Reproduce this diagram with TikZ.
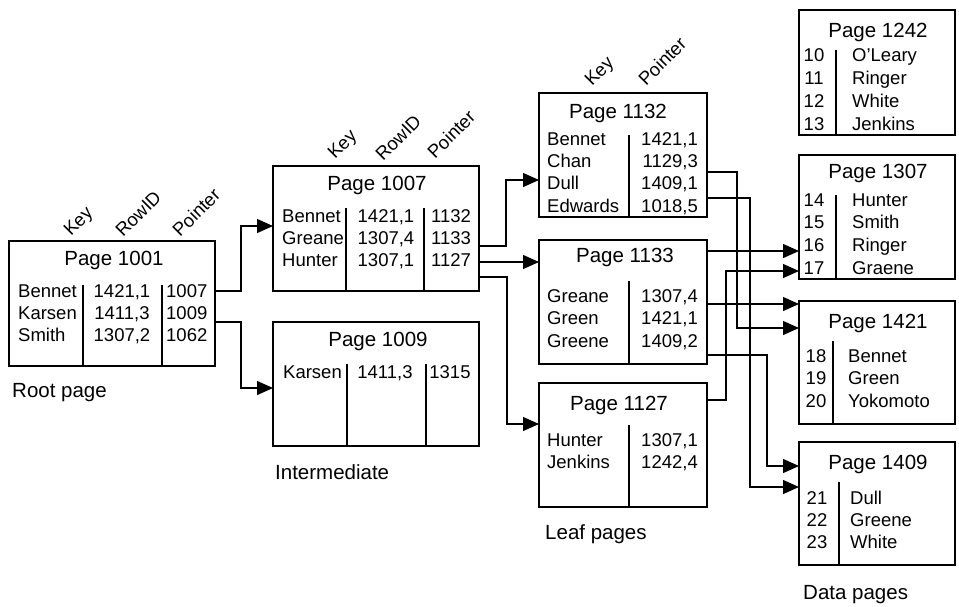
\documentclass[tikz,border=0pt]{standalone}
\usepackage{fontspec}
\setmainfont{Liberation Sans}
\usetikzlibrary{arrows.meta}
\begin{document}
\begin{tikzpicture}[x=1pt,y=-1pt,
  box/.style={draw, line width=1.3pt, inner sep=0pt, outer sep=0pt, anchor=north west},
  ttl/.style={font=\fontsize{20.5}{24}\selectfont, inner sep=0pt, text height=14.7pt, text depth=0pt},
  txt/.style={font=\fontsize{18.5}{22}\selectfont, inner sep=0pt, text height=13.3pt, text depth=0pt},
  hdr/.style={font=\fontsize{18.5}{22}\selectfont, inner sep=0pt, rotate=45, anchor=base west},
  div/.style={line width=1.3pt},
  conn/.style={line width=1.3pt, -{Triangle[length=16pt,width=14pt]}}]
\useasboundingbox (0,0) rectangle (959,606);

% ---------- boxes ----------
\node[box, minimum width=206pt, minimum height=125pt] (b1001) at (9,241) {};
\node[box, minimum width=206pt, minimum height=125pt] (b1007) at (273,166) {};
\node[box, minimum width=206pt, minimum height=124pt] (b1009) at (273,322) {};
\node[box, minimum width=168pt, minimum height=124pt] (b1132) at (539,93) {};
\node[box, minimum width=168pt, minimum height=124pt] (b1133) at (539,240) {};
\node[box, minimum width=168pt, minimum height=124pt] (b1127) at (539,383) {};
\node[box, minimum width=156pt, minimum height=125pt] (d1242) at (799,10) {};
\node[box, minimum width=156pt, minimum height=124pt] (d1307) at (799,155) {};
\node[box, minimum width=156pt, minimum height=123pt] (d1421) at (799,301) {};
\node[box, minimum width=156pt, minimum height=123pt] (d1409) at (799,442) {};

% ---------- dividers ----------
\draw[div] (83,285) -- (83,366);  \draw[div] (162,285) -- (162,366);
\draw[div] (346,208) -- (346,291); \draw[div] (424,208) -- (424,291);
\draw[div] (347,364) -- (347,446); \draw[div] (426,364) -- (426,446);
\draw[div] (629,135) -- (629,217);
\draw[div] (629,281) -- (629,364);
\draw[div] (629,425) -- (629,507);
\draw[div] (836,50) -- (836,135);
\draw[div] (836,195) -- (836,279);
\draw[div] (833,341) -- (833,424);
\draw[div] (839,482) -- (839,565);

% ---------- column headers ----------
\node[hdr] (h1) at (71,237) {Key};
\node[hdr] (h2) at (123,238) {RowID};
\node[hdr] (h3) at (180,238) {Pointer};
\node[hdr] (h4) at (335,160) {Key};
\node[hdr] (h5) at (383,162) {RowID};
\node[hdr] (h6) at (435,160) {Pointer};
\node[hdr] (h7) at (592,87) {Key};
\node[hdr] (h8) at (646,87) {Pointer};

% ---------- Page 1001 ----------
\node[ttl] (t1001) at (114,258) {Page 1001};
\foreach \k/\v/\p/\y [count=\i] in {Bennet/{1421,1}/1007/291, Karsen/{1411,3}/1009/313, Smith/{1307,2}/1062/335}{
  \node[txt, anchor=west] (ka\i) at (18,\y) {\k};
  \node[txt] (va\i) at (122,\y) {\v};
  \node[txt, anchor=west] (pa\i) at (166,\y) {\p};
}
\node[ttl, anchor=west] (lroot) at (12,390) {Root page};

% ---------- Page 1007 ----------
\node[ttl] (t1007) at (377,183) {Page 1007};
\foreach \k/\v/\p/\y [count=\i] in {Bennet/{1421,1}/1132/216, Greane/{1307,4}/1133/238, Hunter/{1307,1}/1127/260}{
  \node[txt, anchor=west] (kb\i) at (282,\y) {\k};
  \node[txt] (vb\i) at (386,\y) {\v};
  \node[txt] (pb\i) at (451,\y) {\p};
}

% ---------- Page 1009 ----------
\node[ttl] (t1009) at (378,339) {Page 1009};
\node[txt, anchor=west] (kc1) at (283,372) {Karsen};
\node[txt] (vc1) at (385,372) {1411,3};
\node[txt] (pc1) at (450,372) {1315};
\node[ttl, anchor=west] (linter) at (275,472) {Intermediate};

% ---------- Page 1132 ----------
\node[ttl] (t1132) at (618,111) {Page 1132};
\foreach \k/\v/\y [count=\i] in {Bennet/{1421,1}/139, Chan/{1129,3}/161, Dull/{1409,1}/183, Edwards/{1018,5}/206}{
  \node[txt, anchor=west] (kd\i) at (547,\y) {\k};
  \node[txt, anchor=east] (vd\i) at (698,\y) {\v};
}

% ---------- Page 1133 ----------
\node[ttl] (t1133) at (625,255) {Page 1133};
\foreach \k/\v/\y [count=\i] in {Greane/{1307,4}/296, Green/{1421,1}/318, Greene/{1409,2}/341}{
  \node[txt, anchor=west] (ke\i) at (547,\y) {\k};
  \node[txt, anchor=east] (ve\i) at (698,\y) {\v};
}

% ---------- Page 1127 ----------
\node[ttl] (t1127) at (619,403) {Page 1127};
\foreach \k/\v/\y [count=\i] in {Hunter/{1307,1}/440, Jenkins/{1242,4}/462}{
  \node[txt, anchor=west] (kf\i) at (547,\y) {\k};
  \node[txt, anchor=east] (vf\i) at (698,\y) {\v};
}
\node[ttl, anchor=west] (lleaf) at (545,532) {Leaf pages};

% ---------- Data pages ----------
\node[ttl] (t1242) at (878,30) {Page 1242};
\foreach \n/\w/\y in {10/O'Leary/55, 11/Ringer/78, 12/White/101, 13/Jenkins/124}{
  \node[txt] (ng\n) at (814,\y) {\n};
  \node[txt, anchor=west] (wg\n) at (852,\y) {\w};
}
\node[ttl] (t1307) at (878,171) {Page 1307};
\foreach \n/\w/\y in {14/Hunter/200, 15/Smith/222, 16/Ringer/245, 17/Graene/268}{
  \node[txt] (nh\n) at (814,\y) {\n};
  \node[txt, anchor=west] (wh\n) at (852,\y) {\w};
}
\node[ttl] (t1421) at (878,321) {Page 1421};
\foreach \n/\w/\y in {18/Bennet/356, 19/Green/378, 20/Yokomoto/401}{
  \node[txt] (ni\n) at (816,\y) {\n};
  \node[txt, anchor=west] (wi\n) at (848,\y) {\w};
}
\node[ttl] (t1409) at (878,462) {Page 1409};
\foreach \n/\w/\y in {21/Dull/498, 22/Greene/520, 23/White/542}{
  \node[txt] (nj\n) at (817,\y) {\n};
  \node[txt, anchor=west] (wj\n) at (850,\y) {\w};
}
\node[ttl, anchor=west] (ldata) at (803,592) {Data pages};

% ---------- connectors ----------
\draw[conn] ([yshift=-50pt]b1001.north east) -- ++(26,0) |- ([yshift=-60pt]b1007.north west);
\draw[conn] ([yshift=-81pt]b1001.north east) -- ++(26,0) |- ([yshift=-66pt]b1009.north west);
\draw[conn] ([yshift=-80pt]b1007.north east) -- ++(27,0) |- ([yshift=-87pt]b1132.north west);
\draw[conn] ([yshift=-96pt]b1007.north east) -- ([yshift=-22pt]b1133.north west);
\draw[conn] ([yshift=-111pt]b1007.north east) -- ++(28,0) |- ([yshift=-41pt]b1127.north west);
\draw[conn] ([yshift=-79pt]b1132.north east) -- ++(30,0) |- ([yshift=-27pt]d1421.north west);
\draw[conn] ([yshift=-105pt]b1132.north east) -- ++(43,0) |- ([yshift=-45pt]d1409.north west);
\draw[conn] ([yshift=-11pt]b1133.north east) -- ([yshift=-96pt]d1307.north west);
\draw[conn] ([yshift=-64pt]b1133.north east) -- ([yshift=-3pt]d1421.north west);
\draw[conn] ([yshift=-115pt]b1133.north east) -- ++(60,0) |- ([yshift=-24pt]d1409.north west);
\draw[conn] ([yshift=-17pt]b1127.north east) -- ++(19,0) |- ([yshift=-116pt]d1307.north west);
\end{tikzpicture}
\end{document}
